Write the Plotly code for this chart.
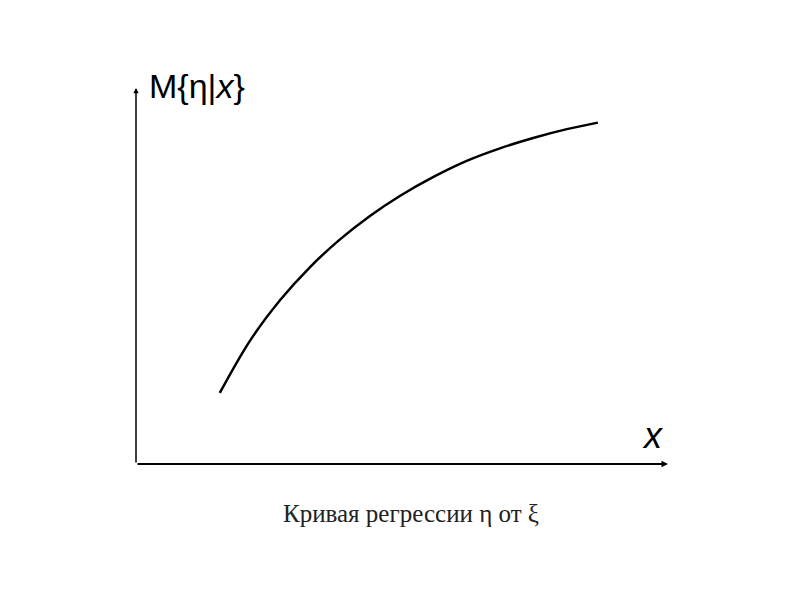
import plotly.graph_objects as go

# Regression curve, data units
curve_x = [1.54, 2.10, 2.65, 3.20, 3.75, 4.30, 4.85, 5.46, 6.09, 6.69, 7.30, 7.92, 8.49]
curve_y = [1.85, 3.22, 4.27, 5.13, 5.85, 6.46, 6.98, 7.47, 7.90, 8.22, 8.49, 8.72, 8.89]

x_axis_end = 9.78
y_axis_end = 9.79
y_label = "M{η|<i>x</i>}"
x_label = "<i>x</i>"
caption = "Кривая регрессии η от ξ"

fig = go.Figure()
fig.add_trace(go.Scatter(
    x=curve_x, y=curve_y, mode="lines",
    line=dict(color="black", width=2.5, shape="spline", smoothing=1.0),
    showlegend=False, hoverinfo="skip"))

# axes drawn as arrows
fig.add_annotation(x=x_axis_end, y=0, ax=0, ay=0, xref="x", yref="y", axref="x", ayref="y",
                   showarrow=True, arrowhead=2, arrowsize=0.6, arrowwidth=2.2, arrowcolor="black", text="")
fig.add_annotation(x=0, y=y_axis_end, ax=0, ay=0, xref="x", yref="y", axref="x", ayref="y",
                   showarrow=True, arrowhead=2, arrowsize=0.7, arrowwidth=1.5, arrowcolor="black", text="")

fig.add_annotation(x=0.2, y=9.84, xref="x", yref="y", text=y_label, showarrow=False,
                   xanchor="left", yanchor="middle",
                   font=dict(family="Liberation Sans, Arial", size=34, color="black"))
fig.add_annotation(x=9.50, y=0.73, xref="x", yref="y", text=x_label, showarrow=False,
                   xanchor="center", yanchor="middle",
                   font=dict(family="Liberation Sans, Arial", size=36, color="black"))
fig.add_annotation(x=0.5055, y=-0.128, xref="paper", yref="paper", text=caption, showarrow=False,
                   xanchor="center", yanchor="middle",
                   font=dict(family="Liberation Serif, Times New Roman", size=25, color="#222"))

fig.update_xaxes(range=[0, 10], visible=False)
fig.update_yaxes(range=[0, 10], visible=False)
fig.update_layout(width=800, height=600, margin=dict(l=128, r=128, t=72, b=144),
                  plot_bgcolor="white", paper_bgcolor="white")
fig.write_html("out.html")
